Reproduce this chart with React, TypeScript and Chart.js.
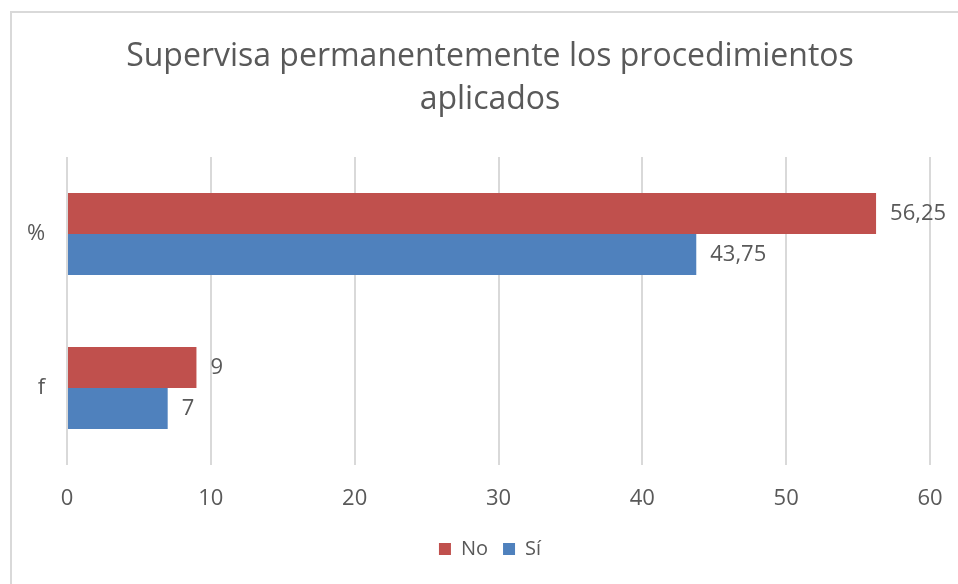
import React, { useEffect, useRef } from 'react';
import { Chart, registerables } from 'chart.js';

Chart.register(...registerables);

const categories = ['%', 'f'];
const seriesNames = ['No', 'Sí'];
const noValues = [56.25, 9];
const siValues = [43.75, 7];
const seriesColors = ['#C0504D', '#4F81BD'];
const xMin = 0;
const xMax = 60;
const xStep = 10;
const titleLines = ['Supervisa permanentemente los procedimientos', 'aplicados'];

const TEXT = '#595959';
const GRID = '#D9D9D9';
const FONT = "'Open Sans', 'Noto Sans', sans-serif";

const valueLabelPlugin = {
  id: 'barValueLabels',
  afterDatasetsDraw(chart: any) {
    const ctx = chart.ctx;
    ctx.save();
    ctx.font = `22px ${FONT}`;
    ctx.fillStyle = TEXT;
    ctx.textAlign = 'left';
    ctx.textBaseline = 'middle';
    chart.data.datasets.forEach((ds: any, i: number) => {
      const meta = chart.getDatasetMeta(i);
      meta.data.forEach((bar: any, j: number) => {
        const v = ds.data[j];
        ctx.fillText(String(v).replace('.', ','), bar.x + 14, bar.y);
      });
    });
    ctx.restore();
  },
};

export default function App() {
  const canvasRef = useRef<HTMLCanvasElement | null>(null);

  useEffect(() => {
    document.body.style.margin = '0';
    const canvas = canvasRef.current;
    if (!canvas) return;
    const chart = new Chart(canvas, {
      type: 'bar',
      data: {
        labels: categories,
        datasets: [
          {
            label: seriesNames[0],
            data: noValues,
            backgroundColor: seriesColors[0],
            categoryPercentage: 0.534,
            barPercentage: 1,
          },
          {
            label: seriesNames[1],
            data: siValues,
            backgroundColor: seriesColors[1],
            categoryPercentage: 0.534,
            barPercentage: 1,
          },
        ],
      },
      options: {
        indexAxis: 'y',
        animation: false,
        responsive: false,
        devicePixelRatio: 1,
        layout: { padding: { left: 50, right: 50, top: 0, bottom: 15 } },
        scales: {
          x: {
            min: xMin,
            max: xMax,
            ticks: {
              stepSize: xStep,
              color: TEXT,
              font: { family: FONT, size: 22 },
              padding: 21,
            },
            grid: { color: GRID, lineWidth: 2, drawTicks: false },
            border: { display: false },
            afterFit(scale: any) {
              scale.height = 59;
            },
          },
          y: {
            ticks: {
              color: TEXT,
              font: { family: FONT, size: 22 },
              mirror: true,
              crossAlign: 'far',
              padding: -40,
            },
            grid: { display: false, drawTicks: false },
            border: { display: false },
            afterFit(scale: any) {
              scale.width = 17;
            },
          },
        },
        plugins: {
          title: {
            display: true,
            text: titleLines,
            color: TEXT,
            font: { family: FONT, size: 32, weight: 'normal', lineHeight: 43 / 32 },
            padding: { top: 35.5, bottom: 35.5 },
          },
          legend: {
            position: 'bottom',
            labels: {
              boxWidth: 12,
              boxHeight: 12,
              color: TEXT,
              font: { family: FONT, size: 20 },
              padding: 15,
            },
          },
          tooltip: { enabled: false },
        },
      },
      plugins: [valueLabelPlugin],
    });
    return () => chart.destroy();
  }, []);

  return (
    <div style={{ position: 'fixed', left: 0, top: 0, width: 958, height: 584, overflow: 'hidden', background: '#fff' }}>
      <div
        style={{
          position: 'absolute',
          left: 10,
          top: 11,
          width: 1000,
          height: 1000,
          borderTop: '2px solid #D9D9D9',
          borderLeft: '2px solid #D9D9D9',
        }}
      />
      <canvas ref={canvasRef} width={980} height={584} style={{ position: 'absolute', left: 0, top: 0 }} />
    </div>
  );
}
